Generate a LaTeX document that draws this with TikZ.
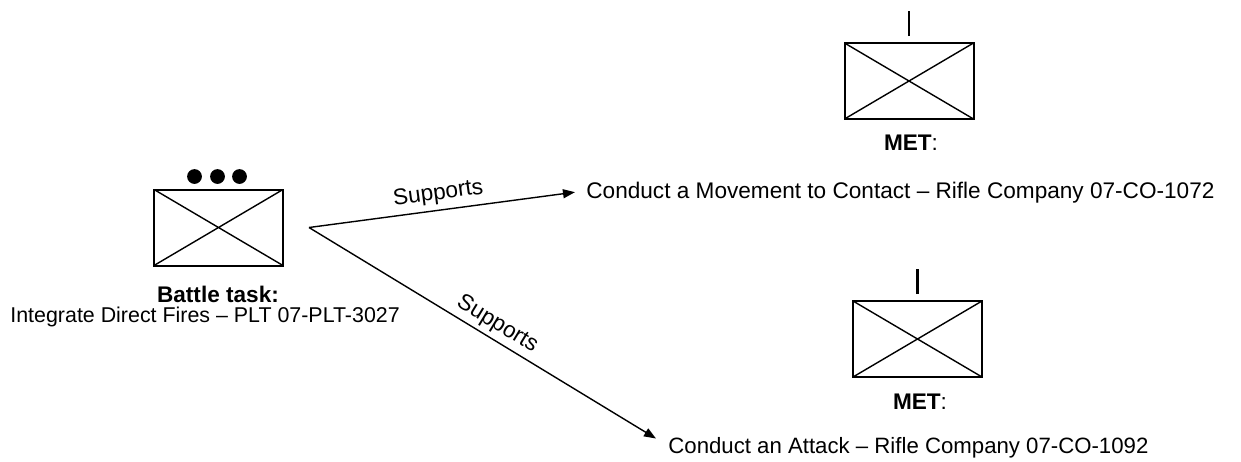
\documentclass[tikz,border=0pt]{standalone}
\usepackage{fontspec}
\setmainfont{Liberation Sans}
\usetikzlibrary{arrows.meta}

\begin{document}
\begin{tikzpicture}[x=0.5pt,y=-0.5pt,
        unitbox/.style={draw,line width=1pt,minimum width=64.5pt,minimum height=38pt,inner sep=0pt,
            path picture={\draw[line width=0.7pt] (path picture bounding box.north west) -- (path picture bounding box.south east)
                (path picture bounding box.south west) -- (path picture bounding box.north east);}},
        txt/.style={font=\fontsize{11.3}{13.5}\selectfont,inner sep=0pt},
        supports/.style={-{Triangle[length=6pt,width=4.5pt]},line width=0.7pt}]
    \useasboundingbox (0,0) rectangle (1241,461);
    \node[unitbox] (plt) at (218.5,227.5) {};
    \foreach \dx in {-24,-1,21}
        \fill ([shift={(\dx,-12)}]plt.north) circle (3.7pt);
    \node[txt,anchor=base] (bt) at (218,302) {\textbf{Battle task:}};
    \node[txt,font=\fontsize{10.7}{13}\selectfont,anchor=base west] (ptask) at (10,322) {Integrate Direct Fires -- PLT 07-PLT-3027};
    \node[unitbox] (co1) at (909,81) {};
    \draw[line width=1.4pt] ([yshift=3pt]co1.north) -- ++(0,-25);
    \node[txt,anchor=base] (met1) at (911,150) {\textbf{MET}:};
    \node[txt,anchor=base west] (mtc) at (586,198) {Conduct a Movement to Contact -- Rifle Company 07-CO-1072};
    \node[unitbox] (co2) at (917.5,339) {};
    \draw[line width=1.4pt] ([yshift=3pt]co2.north) -- ++(0,-25);
    \node[txt,anchor=base] (met2) at (920,409) {\textbf{MET}:};
    \node[txt,font=\fontsize{11.1}{13.5}\selectfont,anchor=base west] (atk) at (668,453) {Conduct an Attack -- Rifle Company 07-CO-1092};
    \coordinate (fork) at ([xshift=12.5pt]plt.east);
    \draw[supports] (fork) -- ([xshift=-5.5pt]mtc.west)
        node[txt,pos=0.494,sloped,above=2.6pt] (s1) {Supports};
    \draw[supports] (fork) -- ([xshift=-6pt,yshift=-1pt]atk.north west)
        node[txt,pos=0.52,sloped,above=2pt] (s2) {Supports};
\end{tikzpicture}
\end{document}
